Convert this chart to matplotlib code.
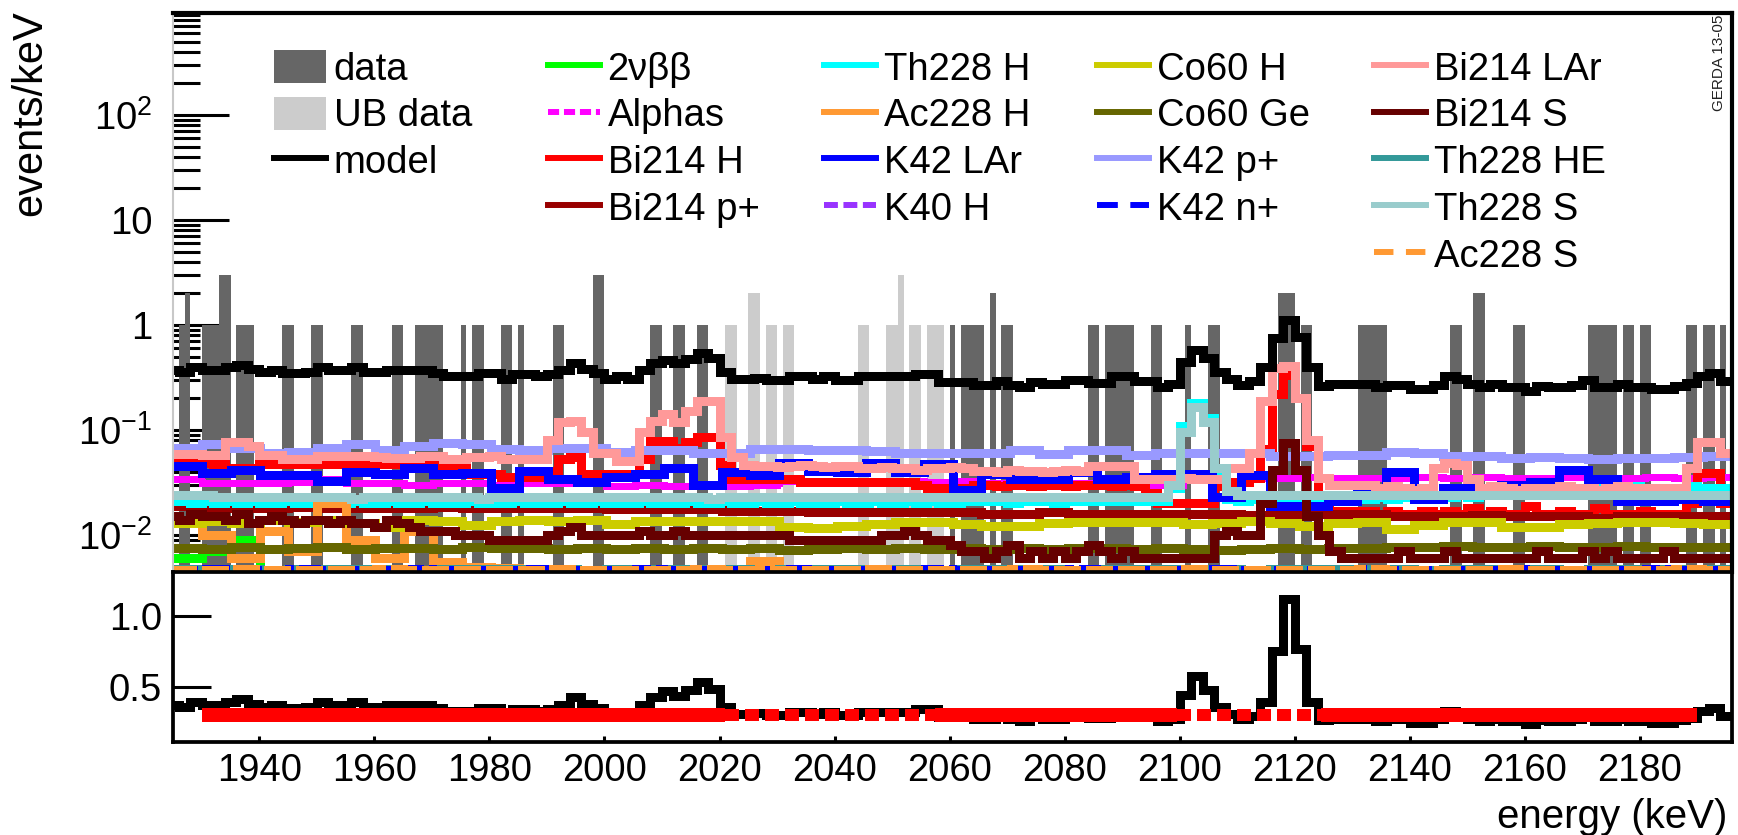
import numpy as np
import matplotlib
matplotlib.use('Agg')
import matplotlib.pyplot as plt
from matplotlib.legend import Legend
from matplotlib.lines import Line2D
from matplotlib.ticker import FuncFormatter, LogLocator, NullFormatter

plt.rcParams['font.family'] = ['Liberation Sans', 'DejaVu Sans']
plt.rcParams['mathtext.fontset'] = 'custom'
plt.rcParams['mathtext.rm'] = 'Liberation Sans'
plt.rcParams['mathtext.it'] = 'Liberation Sans:italic'
plt.rcParams['mathtext.bf'] = 'Liberation Sans:bold'
plt.rcParams['lines.scale_dashes'] = False

# --- measured data (1 keV bins, lower edge in keV) ---
data_bins = [1926, 1927, 1930, 1931, 1932, 1933, 1934, 1936, 1937, 1938,
             1944, 1945, 1949, 1950, 1956, 1957, 1963, 1964, 1967, 1968,
             1969, 1970, 1971, 1975, 1977, 1978, 1982, 1983, 1985, 1991,
             1992, 1998, 1999, 2008, 2009, 2012, 2013, 2016, 2017, 2060,
             2062, 2063, 2064, 2065, 2067, 2069, 2070, 2084, 2085, 2087,
             2088, 2089, 2090, 2091, 2095, 2096, 2101, 2105, 2106, 2117,
             2118, 2119, 2121, 2122, 2131, 2132, 2133, 2134, 2135, 2147,
             2148, 2151, 2152, 2158, 2159, 2171, 2172, 2173, 2174, 2175,
             2177, 2178, 2180, 2181, 2188, 2189, 2191, 2192, 2194]
data_counts = [1, 2, 1, 1, 1, 3, 3, 1, 1, 1,
               1, 1, 1, 1, 1, 1, 1, 1, 1, 1,
               1, 1, 1, 1, 1, 1, 1, 1, 1, 1,
               1, 3, 3, 1, 1, 1, 1, 1, 1, 1,
               1, 1, 1, 1, 2, 1, 1, 1, 1, 1,
               1, 1, 1, 1, 1, 1, 1, 1, 1, 2,
               2, 2, 1, 1, 1, 1, 1, 1, 1, 1,
               1, 2, 2, 1, 1, 1, 1, 1, 1, 1,
               1, 1, 1, 1, 1, 1, 1, 1, 1]
ub_bins = [2021, 2022, 2025, 2026, 2028, 2029, 2031, 2032, 2044, 2045,
           2049, 2050, 2051, 2053, 2054, 2056, 2057, 2058]
ub_counts = [1, 1, 2, 2, 1, 1, 1, 1, 1, 1,
             1, 1, 3, 1, 1, 1, 1, 1]

# --- model and components, fine binning (2 keV from 1924 to 2196) ---
fine_edges = np.arange(1924, 2197, 2)
model = [
    0.373, 0.354, 0.395, 0.373, 0.373, 0.395, 0.416, 0.381, 0.354, 0.373,
    0.349, 0.349, 0.360, 0.395, 0.373, 0.373, 0.395, 0.354, 0.354, 0.373,
    0.373, 0.373, 0.373, 0.349, 0.329, 0.329, 0.329, 0.349, 0.349, 0.306,
    0.341, 0.341, 0.329, 0.341, 0.373, 0.431, 0.381, 0.349, 0.306, 0.324,
    0.306, 0.373, 0.431, 0.468, 0.434, 0.475, 0.537, 0.482, 0.359, 0.306,
    0.306, 0.315, 0.300, 0.300, 0.324, 0.324, 0.306, 0.324, 0.300, 0.300,
    0.324, 0.324, 0.324, 0.324, 0.324, 0.341, 0.341, 0.285, 0.285, 0.285,
    0.270, 0.270, 0.295, 0.270, 0.255, 0.285, 0.275, 0.275, 0.300, 0.300,
    0.281, 0.281, 0.324, 0.324, 0.295, 0.295, 0.255, 0.275, 0.440, 0.578,
    0.480, 0.354, 0.306, 0.270, 0.295, 0.395, 0.750, 1.116, 0.763, 0.395,
    0.264, 0.275, 0.275, 0.275, 0.275, 0.255, 0.270, 0.270, 0.246, 0.246,
    0.270, 0.329, 0.306, 0.275, 0.255, 0.275, 0.255, 0.255, 0.237, 0.264,
    0.255, 0.255, 0.270, 0.301, 0.255, 0.255, 0.275, 0.255, 0.255, 0.243,
    0.243, 0.264, 0.281, 0.329, 0.349, 0.295]

# components in units of 1e-3 events/keV
bi214_lar = [
    59, 59, 59, 58, 58, 77, 77, 70, 58, 58,
    53, 53, 53, 56, 56, 56, 56, 56, 55, 54,
    54, 54, 56, 56, 53, 53, 55, 55, 57, 53,
    53, 53, 53, 80, 120, 122, 95, 61, 61, 51,
    51, 95, 122, 142, 119, 153, 190, 190, 85, 55,
    46, 45, 45, 44, 45, 46, 45, 44, 45, 45,
    43, 43, 44, 43, 43, 42, 43, 43, 44, 43,
    41, 41, 40, 42, 41, 41, 40, 41, 42, 41,
    45, 45, 45, 45, 34, 34, 34, 34, 35, 34,
    34, 34, 43, 43, 60, 190, 390, 410, 200, 80,
    35, 30, 30, 30, 30, 28, 29, 28, 27, 28,
    43, 49, 46, 34, 28, 29, 28, 27, 28, 28,
    28, 29, 28, 28, 27, 28, 29, 28, 28, 28,
    28, 28, 43, 76, 76, 61]
bi214_h = [
    49, 49, 49, 49, 47, 43, 43, 43, 47, 47,
    47, 47, 47, 47, 47, 47, 47, 46, 47, 47,
    47, 47, 47, 46, 44, 44, 38, 38, 38, 36,
    36, 36, 36, 41, 53, 55, 38, 38, 38, 38,
    38, 53, 79, 79, 68, 76, 85, 85, 46, 34,
    34, 34, 34, 34, 34, 32, 32, 32, 32, 32,
    32, 32, 32, 32, 32, 30, 28, 28, 28, 28,
    30, 30, 29, 30, 30, 29, 30, 30, 29, 30,
    30, 30, 29, 30, 29, 25, 20, 20, 20, 20,
    20, 29, 32, 32, 35, 66, 220, 334, 200, 70,
    20, 17, 17, 17, 17, 16, 17, 16, 16, 17,
    16, 17, 16, 18, 16, 17, 16, 16, 19, 16,
    16, 17, 16, 16, 18, 16, 16, 16, 17, 16,
    16, 16, 20, 39, 39, 20]
th228_s = [
    24, 24, 24, 24, 23, 23, 23, 23, 23, 23,
    23, 23, 23, 23, 23, 23, 22, 23, 23, 23,
    23, 23, 23, 23, 23, 23, 23, 22, 23, 23,
    23, 23, 23, 23, 23, 23, 23, 23, 23, 23,
    23, 23, 23, 23, 23, 23, 23, 22, 23, 23,
    23, 23, 23, 23, 23, 23, 23, 23, 23, 23,
    23, 23, 23, 23, 23, 23, 23, 23, 23, 23,
    23, 23, 23, 23, 23, 23, 23, 23, 23, 23,
    23, 23, 23, 23, 23, 23, 23, 30, 95, 165,
    120, 43, 26, 24, 24, 24, 24, 24, 24, 24,
    24, 24, 24, 24, 24, 24, 24, 24, 24, 24,
    24, 24, 24, 24, 24, 24, 24, 24, 24, 24,
    24, 24, 24, 24, 24, 24, 24, 24, 24, 24,
    24, 24, 24, 24, 24, 24]
th228_h = [
    21, 21, 20, 21, 20, 21, 20, 21, 20, 20,
    21, 20, 20, 21, 20, 20, 21, 20, 20, 21,
    20, 20, 21, 20, 20, 20, 21, 20, 20, 20,
    21, 20, 20, 20, 21, 20, 20, 21, 20, 20,
    20, 21, 20, 20, 20, 21, 20, 20, 21, 20,
    20, 21, 20, 20, 21, 20, 20, 20, 21, 20,
    20, 21, 20, 20, 21, 20, 21, 20, 20, 21,
    21, 21, 21, 20, 21, 21, 21, 20, 21, 21,
    21, 21, 21, 21, 21, 21, 21, 28, 110, 180,
    130, 40, 22, 21, 22, 22, 22, 22, 22, 22,
    22, 22, 22, 23, 22, 23, 22, 23, 23, 22,
    23, 23, 24, 23, 24, 24, 24, 25, 25, 25,
    26, 26, 27, 27, 28, 28, 28, 29, 28, 28,
    28, 28, 29, 28, 28, 28]
bi214_s = [
    15, 14, 16, 15, 15, 14, 16, 13, 14, 15,
    14, 13, 14, 14, 13, 14, 13, 13, 12, 14,
    13, 12, 11, 11, 11, 10, 10, 10, 9, 9,
    9, 9, 9, 10, 11, 12, 10, 10, 10, 10,
    10, 11, 10, 10, 11, 10, 10, 10, 10, 10,
    10, 10, 10, 10, 9, 9, 9, 9, 9, 9,
    9, 9, 10, 10, 11, 10, 9, 9, 8, 7,
    7, 6, 7, 8, 6, 7, 6, 7, 6, 7,
    8, 7, 6, 7, 6, 6, 6, 6, 6, 6,
    6, 10, 11, 10, 10, 20, 42, 75, 42, 15,
    10, 7, 6, 6, 6, 6, 6, 7, 6, 6,
    6, 7, 6, 6, 6, 6, 6, 6, 6, 7,
    6, 6, 6, 7, 6, 7, 6, 6, 6, 6,
    7, 6, 6, 6, 6, 6]

# --- smoother components, coarse binning (~5 keV from 1925 to 2196) ---
coarse_edges = np.linspace(1925, 2196, 55)
k42_pplus = [68, 73, 68, 61, 62, 68, 73, 64, 70, 75, 73, 66, 64, 68,
             68, 62, 65, 64, 61, 60, 66, 66, 65, 64, 63, 61, 61, 61,
             61, 64, 59, 64, 65, 58, 61, 61, 61, 60, 57, 57, 58, 58,
             62, 60, 57, 57, 54, 55, 54, 53, 54, 54, 55, 57]
alphas = [34, 31, 31, 31, 32, 34, 31, 31, 30, 31, 31, 30, 31, 31,
          33, 29, 30, 29, 30, 29, 30, 33, 33, 32, 33, 33, 32, 33,
          31, 31, 30, 31, 30, 29, 30, 34, 33, 35, 35, 36, 35, 35,
          35, 36, 35, 36, 35, 35, 36, 35, 35, 36, 35, 36]
k42_lar = [45, 39, 42, 37, 37, 33, 40, 38, 43, 38, 39, 28, 41, 34,
           32, 36, 38, 43, 30, 40, 37, 48, 41, 40, 49, 40, 47, 27,
           38, 34, 34, 40, 34, 36, 38, 38, 23, 37, 19, 19, 21, 25,
           40, 22, 28, 24, 30, 32, 42, 34, 21, 21, 22, 21]
bi214_pplus = [19, 18, 18, 18, 18.5, 18, 18, 18, 18, 18.5, 18, 18, 18, 18,
               18, 17.5, 17.5, 17.5, 17.5, 17, 17, 17, 16.5, 16.5, 16.5, 16.5, 16.5, 16.5,
               16, 16, 16.5, 16, 16, 16, 16, 16, 16, 15.5, 16, 16, 16, 16,
               15, 15, 15, 15.5, 15, 15, 15, 14.5, 15, 15, 15, 15]
co60_h = [13, 13.5, 13, 14, 13.3, 14, 13, 11.8, 13.8, 13.5, 12.5, 13.5, 14, 13.7,
          14, 12.8, 13.7, 13.7, 13.7, 13.7, 13.5, 12, 11.6, 12.3, 12.8, 13.3, 13.3, 12.8,
          12.3, 12.3, 13, 13.3, 13.3, 13.3, 13.3, 12.8, 13, 13.7, 13, 12.3, 13, 13.3,
          11.4, 12.5, 13.3, 13.3, 12, 12, 12.8, 13, 13.3, 13.3, 13, 12.8]
co60_ge = [7.5, 7.3, 7.6, 7.4, 7.5, 7.6, 7.4, 7.5, 7.5, 7.4, 7.6, 7.5, 7.5, 7.4,
           7.5, 7.4, 7.5, 7.3, 7.5, 7.4, 7.5, 7.2, 7.4, 7.5, 7.4, 7.5, 7.3, 7.5,
           7.4, 7.5, 7.3, 7.5, 7.5, 7.4, 7.5, 7.4, 7.2, 7.4, 7.5, 7.3, 7.5, 7.5,
           7.7, 7.6, 7.8, 7.6, 7.7, 7.8, 7.7, 7.7, 7.8, 7.6, 7.7, 7.7]
ac228_h = [14, 10, 6, 11, 7, 20, 9, 6, 11, 5.5, 5, 4.8, 4.5, 4.4,
           4.3, 4.2, 4.2, 4.1, 4.2, 4.3, 5.7, 4.2, 4.1, 4.1, 4.0, 4.1, 4.0, 4.0,
           4.0, 4.1, 4.0, 3.9, 4.0, 4.0, 3.9, 4.0, 3.9, 3.9, 4.0, 3.9, 3.9, 3.8,
           3.9, 3.8, 3.8, 3.9, 3.8, 3.8, 3.7, 3.8, 3.8, 3.7, 3.8, 3.7]
bb2nu = [6, 7, 9, 4.2, 3.9, 3.7, 3.5, 3.3, 3.1, 2.9, 2.8, 2.6, 2.5, 2.3,
         2.2, 2.1, 2.0, 1.9, 1.8, 1.7, 1.6, 1.5, 1.4, 1.3, 1.2, 1.2, 1.1, 1.0,
         1.0, 0.9, 0.9, 0.8, 0.8, 0.7, 0.7, 0.6, 0.6, 0.6, 0.5, 0.5, 0.5, 0.4,
         0.4, 0.4, 0.4, 0.3, 0.3, 0.3, 0.3, 0.3, 0.2, 0.2, 0.2, 0.2]
k40_h = [3.1, 3.0, 3.1, 3.0, 3.0, 3.1, 3.0, 3.0, 3.1, 3.0, 3.0, 3.0, 3.1, 3.0,
         3.0, 3.0, 3.1, 3.0, 3.0, 3.0, 3.0, 3.1, 3.0, 3.0, 3.0, 3.0, 3.1, 3.0,
         3.0, 3.0, 3.0, 3.1, 3.0, 3.0, 3.0, 3.0, 3.0, 3.1, 3.0, 3.0, 3.0, 3.0,
         3.0, 3.1, 3.0, 3.0, 3.0, 3.0, 3.0, 3.1, 3.0, 3.0, 3.0, 3.0]
k42_nplus = [4.7, 4.8, 4.7, 4.7, 4.8, 4.7, 4.7, 4.7, 4.8, 4.7, 4.7, 4.7, 4.8, 4.7,
             4.7, 4.7, 4.8, 4.7, 4.7, 4.7, 4.7, 4.8, 4.7, 4.7, 4.7, 4.7, 4.8, 4.7,
             4.7, 4.7, 4.7, 4.8, 4.7, 4.7, 4.7, 4.7, 4.8, 4.7, 4.7, 4.7, 4.7, 4.8,
             4.7, 4.7, 4.7, 4.7, 4.8, 4.7, 4.7, 4.7, 4.7, 4.8, 4.7, 4.7]
th228_he = [4.7, 4.7, 4.7, 4.6, 4.7, 4.7, 4.7, 4.7, 4.6, 4.7, 4.7, 4.7, 4.7, 4.7,
            4.6, 4.7, 4.7, 4.7, 4.7, 4.7, 4.6, 4.7, 4.7, 4.7, 4.7, 4.7, 4.6, 4.7,
            4.7, 4.7, 4.7, 4.6, 4.7, 4.7, 4.7, 4.7, 4.7, 4.6, 4.7, 4.7, 4.7, 4.7,
            4.7, 4.6, 4.7, 4.7, 4.7, 4.7, 4.6, 4.7, 4.7, 4.7, 4.7, 4.7]
ac228_s = [4.7, 4.7, 4.8, 4.7, 4.7, 4.7, 4.7, 4.8, 4.7, 4.7, 4.7, 4.7, 4.7, 4.8,
           4.7, 4.7, 4.7, 4.7, 4.8, 4.7, 4.7, 4.7, 4.7, 4.7, 4.8, 4.7, 4.7, 4.7,
           4.7, 4.8, 4.7, 4.7, 4.7, 4.7, 4.7, 4.8, 4.7, 4.7, 4.7, 4.7, 4.7, 4.8,
           4.7, 4.7, 4.7, 4.7, 4.8, 4.7, 4.7, 4.7, 4.7, 4.7, 4.8, 4.7]

# flat background level shown in the lower panel
flat_level = 0.298
flat_solid = [(1930, 2021), (2057.5, 2099.5), (2124.5, 2190)]
flat_dashed = [(2021, 2057.5), (2099.5, 2124.5)]

W, H = 1738, 835
fig = plt.figure(figsize=(W / 100, H / 100), dpi=100)


def box(l, t, r, b):
    return [l / W, 1 - b / H, (r - l) / W, (b - t) / H]


ax = fig.add_axes(box(173, 13, 1732, 572))
axr = fig.add_axes(box(173, 572, 1732, 742))

LW = 5.3      # histogram lines in the panels
LW_LEG = 4.3  # legend sample lines
FS = 27.5

# top panel
ax.set_yscale('log')
h_data = ax.bar(data_bins, data_counts, width=1.0, align='edge', bottom=1e-4,
                color='#666666', linewidth=0, antialiased=False)
h_ub = ax.bar(ub_bins, ub_counts, width=1.0, align='edge', bottom=1e-4,
              color='#cccccc', linewidth=0, antialiased=False)


def comp(vals, edges, color, ls='-'):
    ax.stairs(np.asarray(vals) * 1e-3, edges, baseline=None,
              edgecolor=color, linewidth=LW, linestyle=ls,
              antialiased=False, joinstyle='miter', capstyle='projecting')
    return Line2D([], [], color=color, lw=LW_LEG, linestyle=ls)


h_bb = comp(bb2nu, coarse_edges, '#00ff00')
h_alpha = comp(alphas, coarse_edges, '#ff00ff', (0, (8, 3.5)))
h_bih = comp(bi214_h, fine_edges, '#ff0000')
h_bip = comp(bi214_pplus, coarse_edges, '#990000')
h_thh = comp(th228_h, fine_edges, '#00ffff')
h_ach = comp(ac228_h, coarse_edges, '#ff9933')
h_klar = comp(k42_lar, coarse_edges, '#0000ff')
h_k40 = comp(k40_h, coarse_edges, '#9933ff', (0, (10, 4)))
h_coh = comp(co60_h, coarse_edges, '#cccc00')
h_coge = comp(co60_ge, coarse_edges, '#666600')
h_kp = comp(k42_pplus, coarse_edges, '#9999ff')
h_th_he = comp(th228_he, coarse_edges, '#339999')
h_kn = comp(k42_nplus, coarse_edges, '#0000ff', (0, (15, 9)))
h_bilar = comp(bi214_lar, fine_edges, '#ff9999')
h_bis = comp(bi214_s, fine_edges, '#660000')
h_ths = comp(th228_s, fine_edges, '#99cccc')
h_acs = comp(ac228_s, coarse_edges, '#ff9933', (0, (14, 9)))
ax.stairs(model, fine_edges, baseline=None, edgecolor='black', linewidth=LW,
          antialiased=False, joinstyle='miter')
h_model = Line2D([], [], color='black', lw=LW_LEG)

ax.set_xlim(1925, 2196)
ax.set_ylim(0.00444, 936)
ax.set_axisbelow(True)
ax.tick_params(axis='x', which='both', bottom=False, top=False, labelbottom=False)
ax.tick_params(axis='y', which='major', direction='in', length=40, width=2.2,
               labelsize=FS, pad=15, right=False)
ax.tick_params(axis='y', which='minor', direction='in', length=19.5, width=2.2, right=False)
ax.yaxis.set_major_locator(LogLocator(base=10, numticks=20))
ax.yaxis.set_minor_locator(LogLocator(base=10, subs=np.arange(2, 10), numticks=20))
ax.yaxis.set_minor_formatter(NullFormatter())


def log_label(v, pos):
    e = int(round(np.log10(v)))
    if e == 0:
        return '1'
    if e == 1:
        return '10'
    return r'$10^{%d}$' % e


ax.yaxis.set_major_formatter(FuncFormatter(log_label))
ax.spines['left'].set_color('#c8c8c8')
ax.spines['left'].set_linewidth(1.5)
ax.spines['top'].set_linewidth(3)
ax.spines['right'].set_linewidth(3)
ax.spines['bottom'].set_visible(False)

# legend, five columns
leg_x = [274, 548, 824, 1097, 1374]
columns = [
    ([h_data, h_ub, h_model], ['data', 'UB data', 'model']),
    ([h_bb, h_alpha, h_bih, h_bip], ['2νββ', 'Alphas', 'Bi214 H', 'Bi214 p+']),
    ([h_thh, h_ach, h_klar, h_k40], ['Th228 H', 'Ac228 H', 'K42 LAr', 'K40 H']),
    ([h_coh, h_coge, h_kp, h_kn], ['Co60 H', 'Co60 Ge', 'K42 p+', 'K42 n+']),
    ([h_bilar, h_bis, h_th_he, h_ths, h_acs],
     ['Bi214 LAr', 'Bi214 S', 'Th228 HE', 'Th228 S', 'Ac228 S']),
]
for x, (hs, labs) in zip(leg_x, columns):
    leg = Legend(ax, hs, labs, loc='upper left', bbox_to_anchor=(x / W, 1 - 50 / H),
                 bbox_transform=fig.transFigure, frameon=False, fontsize=FS,
                 handlelength=1.36, handletextpad=0.2, labelspacing=0.24,
                 borderpad=0, borderaxespad=0, handleheight=0.95)
    ax.add_artist(leg)

# lower panel
for x0, x1 in flat_solid:
    axr.plot([x0, x1], [flat_level, flat_level], color='#ff0000', lw=8.8,
             solid_capstyle='butt', antialiased=False)
for x0, x1 in flat_dashed:
    axr.plot([x0, x1], [flat_level, flat_level], color='#ff0000', lw=8.8,
             linestyle=(0, (10, 4.5)), dash_capstyle='butt', antialiased=False)
axr.stairs(model, fine_edges, baseline=None, edgecolor='black', linewidth=LW,
           antialiased=False, joinstyle='miter')
axr.set_xlim(1925, 2196)
axr.set_ylim(0.11, 1.31)
axr.set_xticks(np.arange(1940, 2181, 20))
axr.set_yticks([0.5, 1.0])
axr.set_yticklabels(['0.5', '1.0'])
axr.tick_params(axis='x', direction='in', length=4.3, width=2.2, labelsize=FS, pad=8, top=False)
axr.tick_params(axis='y', direction='in', length=27, width=2.2, labelsize=FS, pad=8, right=False)
for s in axr.spines.values():
    s.set_linewidth(2.7)

fig.text(30 / W, 1 - 10 / H, 'events/keV', rotation=90, ha='center', va='top', fontsize=30)
fig.text(1727 / W, 1 - 817 / H, 'energy (keV)', ha='right', va='center', fontsize=29)
fig.text(1719 / W, 1 - 15 / H, 'GERDA 13-05', rotation=90, ha='center', va='top',
         fontsize=11, color='#222222')

fig.savefig('out.png', dpi=100)
